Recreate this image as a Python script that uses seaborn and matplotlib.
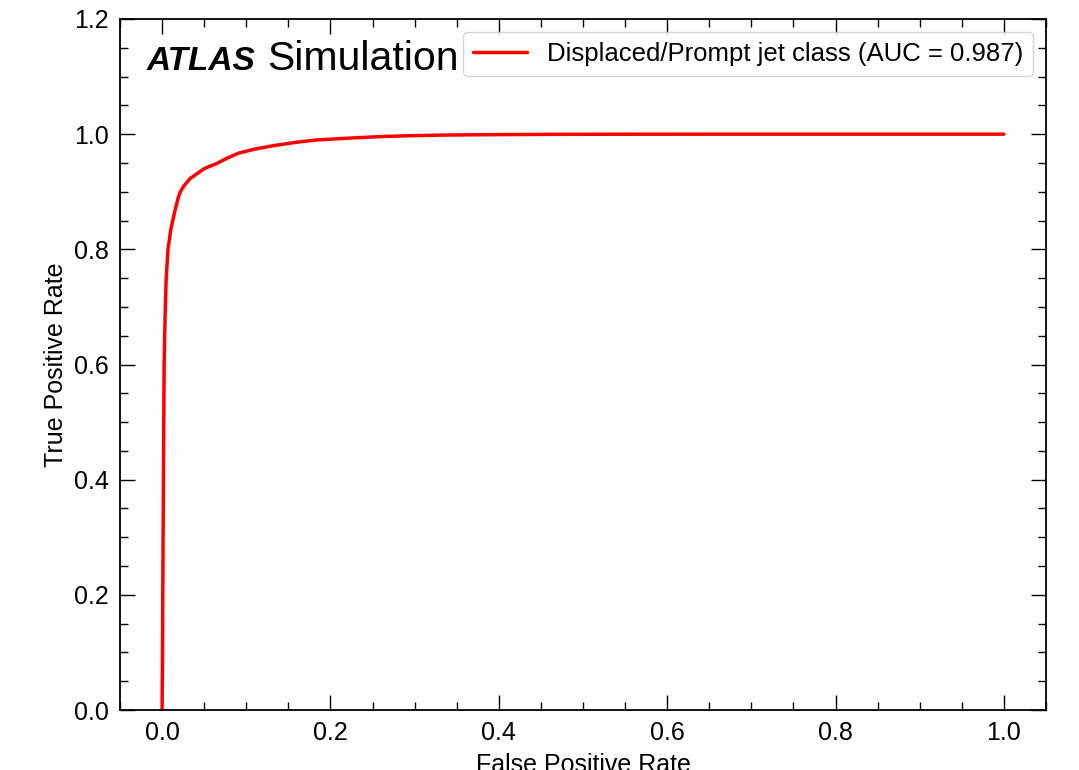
import matplotlib
matplotlib.use("Agg")
import matplotlib.pyplot as plt
from matplotlib.ticker import MultipleLocator
import numpy as np
import pandas as pd
import seaborn as sns

# ROC curve of the displaced/prompt jet classifier
fpr = [0.0, 0.0005, 0.0010, 0.0018, 0.0024, 0.0035, 0.0048, 0.0070, 0.0103,
       0.0146, 0.0194, 0.0214, 0.0253, 0.0333, 0.0420, 0.0511, 0.0650, 0.0768,
       0.0907, 0.1100, 0.1320, 0.1600, 0.1840, 0.2200, 0.2630, 0.3000, 0.3420,
       0.4000, 0.4610, 0.5500, 0.6500, 0.8000, 1.0000]
tpr = [0.0, 0.100, 0.250, 0.450, 0.600, 0.680, 0.747, 0.800, 0.834,
       0.863, 0.891, 0.899, 0.909, 0.923, 0.932, 0.941, 0.949, 0.958,
       0.967, 0.974, 0.980, 0.986, 0.990, 0.993, 0.996, 0.9975, 0.9986,
       0.9992, 0.9997, 0.9999, 1.0, 1.0, 1.0]
series_label = "Displaced/Prompt jet class (AUC = 0.987)"

x_ticks = [0.0, 0.2, 0.4, 0.6, 0.8, 1.0]
y_ticks = [0.0, 0.2, 0.4, 0.6, 0.8, 1.0, 1.2]

sns.set_theme(style="ticks")
plt.rcParams["font.family"] = ["Liberation Sans", "DejaVu Sans"]
plt.rcParams["text.color"] = "black"
plt.rcParams["legend.labelcolor"] = "black"

roc = pd.DataFrame({"fpr": fpr, "tpr": tpr, "label": series_label})

fig = plt.figure(figsize=(10.79, 7.70), dpi=100)
ax = fig.add_axes([120 / 1079, 60 / 770, 926 / 1079, 691 / 770])

sns.lineplot(data=roc, x="fpr", y="tpr", hue="label", palette=["#ff0000"],
             estimator=None, sort=False, linewidth=2.5, ax=ax)

ax.set_xlim(-0.05, 1.05)
ax.set_ylim(0.0, 1.2)
ax.set_xticks(x_ticks)
ax.set_yticks(y_ticks)
ax.set_xticklabels([f"{t:.1f}" for t in x_ticks])
ax.set_yticklabels([f"{t:.1f}" for t in y_ticks])
ax.xaxis.set_minor_locator(MultipleLocator(0.05))
ax.yaxis.set_minor_locator(MultipleLocator(0.05))

ax.tick_params(which="both", direction="in", top=True, right=True,
               color="black", width=1.0)
ax.tick_params(which="major", length=11, labelsize=18, pad=8,
               labelcolor="black")
ax.tick_params(which="minor", length=5.5)
for sp in ax.spines.values():
    sp.set_color("black")
    sp.set_linewidth(1.3)

ax.set_xlabel("False Positive Rate", fontsize=18, color="black", labelpad=6)
ax.set_ylabel("True Positive Rate", fontsize=18, color="black")

ax.legend(loc="upper right", fontsize=18.5, handlelength=2.1,
          handletextpad=0.75, frameon=True, fancybox=True, edgecolor="0.8",
          framealpha=0.8)

atlas = ax.text(0.029, 0.926, "ATLAS", transform=ax.transAxes, fontsize=24,
                fontweight="bold", fontstyle="italic", color="black",
                va="baseline", ha="left")
fig.canvas.draw()
bb = atlas.get_window_extent().transformed(ax.transAxes.inverted())
ax.text(bb.x1 + 0.012, 0.926, "Simulation", transform=ax.transAxes,
        fontsize=29.5, color="black", va="baseline", ha="left")

fig.savefig("out.png", dpi=100)
